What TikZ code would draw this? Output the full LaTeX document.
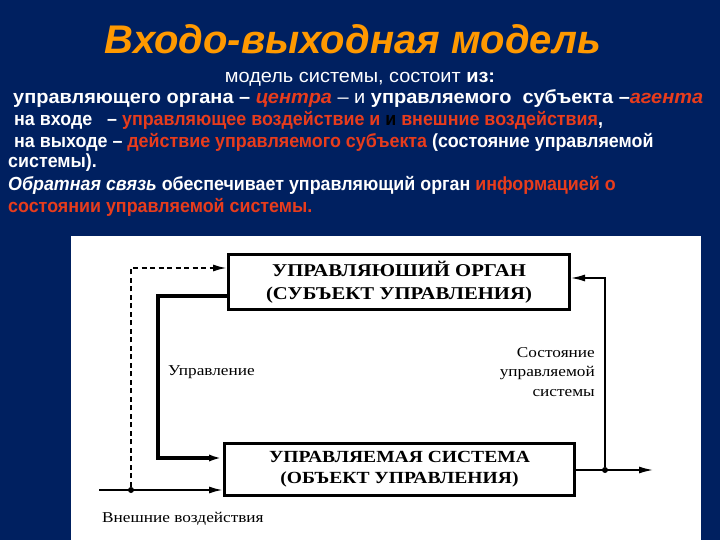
\documentclass[tikz,border=0pt]{standalone}
\usepackage{fontspec}
\setmainfont{Liberation Sans}
\newfontfamily\testo[FakeStretch=0.94]{Liberation Sans}
\newfontfamily\testolargo[FakeStretch=1.05]{Liberation Sans}
\newfontfamily\diagfont[FakeStretch=1.15]{Liberation Serif}
\usetikzlibrary{arrows.meta}
\definecolor{fondo}{RGB}{0,32,96}
\definecolor{arancio}{RGB}{255,153,0}
\definecolor{rosso}{RGB}{232,60,28}
\tikzset{
  riga/.style={anchor=base west, inner sep=0pt, text=white, font=\testo\fontsize{19}{22}\selectfont\bfseries},
  blocco/.style={draw, fill=white, line width=3pt, align=center, inner sep=0pt, font=\diagfont\fontsize{18}{23}\selectfont\bfseries},
  freccia/.style={-{Latex[length=14pt,width=7pt]}},
  punto/.style={circle, fill=black, inner sep=0pt, minimum size=6pt},
  didascalia/.style={inner sep=0pt, font=\diagfont\fontsize{15}{19.5}\selectfont}
}
\begin{document}
\begin{tikzpicture}[x=1pt, y=-1pt]
        %sfondo e pannello
        \fill[fondo] (0,0) rectangle (720,540);
        \useasboundingbox (0,0) rectangle (720,540);
        \fill[white] (71,236) rectangle (701,540);
        %titolo e testo
        \node[anchor=base, inner sep=0pt, text=arancio, font=\fontsize{40}{42}\selectfont\bfseries\itshape] (titolo) at (353,54) {Входо-выходная модель};
        \node[riga, anchor=base, font=\testolargo\fontsize{19}{22}\selectfont] (r1) at (360,83) {модель системы, состоит \textbf{из:}};
        \node[riga, font=\testolargo\fontsize{19}{22}\selectfont\bfseries] (r2) at (13,104) {управляющего органа – {\color{rosso}\itshape центра} {\mdseries – и} управляемого\ \ субъекта –{\color{rosso}\itshape агента}};
        \node[riga] (r3) at (14,126) {на входе\ \ \ – {\color{rosso}управляющее воздействие и} {\color{black}и} {\color{rosso}внешние воздействия},};
        \node[riga] (r4) at (14,148) {на выходе – {\color{rosso}действие управляемого субъекта} (состояние управляемой};
        \node[riga] (r5) at (8,168) {системы).};
        \node[riga] (r6) at (8,191) {{\itshape Обратная связь} обеспечивает управляющий орган {\color{rosso}информацией о}};
        \node[riga, text=rosso] (r7) at (8,212) {состоянии управляемой системы.};
        %blocchi
        \node[blocco, minimum width=341pt, minimum height=55pt] (organo) at (399,282) {УПРАВЛЯЮШИЙ ОРГАН\\(СУБЪЕКТ УПРАВЛЕНИЯ)};
        \node[blocco, minimum width=350pt, minimum height=52pt, font=\diagfont\fontsize{17}{21}\selectfont\bfseries] (sistema) at (399.5,469.5) {УПРАВЛЯЕМАЯ СИСТЕМА\\(ОБЪЕКТ УПРАВЛЕНИЯ)};
        %punti e coordinate
        \coordinate (esterno) at (99,490);
        \node[punto] (nodoin) at (131,490) {};
        \coordinate (tratto) at (131,268);
        \coordinate (ctrlalto) at (158,296);
        \coordinate (ctrlbasso) at (158,458);
        \node[punto] (nodoout) at (605,470) {};
        \coordinate (uscita) at (653,470);
        \coordinate (retro) at (605,278);
        %collegamenti
        \draw[line width=2pt, freccia] (esterno) -- (esterno -| sistema.west);
        \draw[line width=2pt, dash pattern=on 5pt off 3.5pt, freccia] (nodoin) -- (tratto) -- (tratto -| organo.west);
        \draw[line width=3.5pt, freccia] (ctrlalto -| organo.west) -- (ctrlalto) -- (ctrlbasso) -- (ctrlbasso -| sistema.west);
        \draw[line width=1.5pt, freccia] (nodoout -| sistema.east) -- (uscita);
        \draw[line width=1.5pt, freccia] (nodoout) -- (retro) -- (retro -| organo.east);
        %etichette
        \node[didascalia, anchor=base west] (upr) at (168,375) {Управление};
        \node[didascalia, anchor=north east, align=right] (stato) at (595,347) {Состояние\\управляемой\\системы};
        \node[didascalia, anchor=base west] (esterne) at (102,522) {Внешние воздействия};
\end{tikzpicture}
\end{document}
